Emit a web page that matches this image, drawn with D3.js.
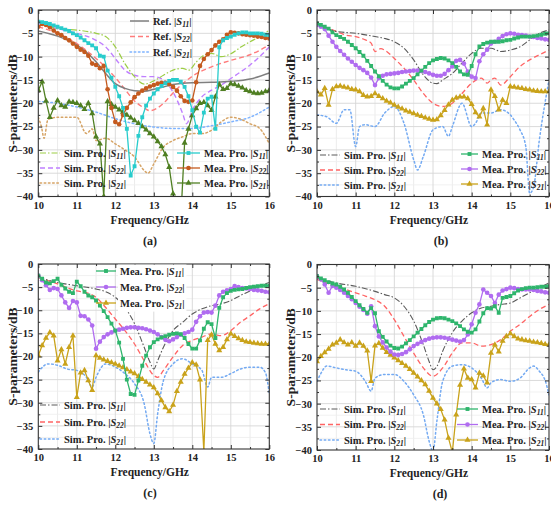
<!DOCTYPE html>
<html>
<head>
<meta charset="utf-8">
<script src="https://cdn.jsdelivr.net/npm/d3@7/dist/d3.min.js"></script>
<style>
  body { margin: 0; background: #fff; }
  svg { display: block; }
  text { font-family: "Liberation Serif", "Times New Roman", serif; font-weight: bold; fill: #222; }
</style>
</head>
<body>
<svg width="551" height="508"></svg>
<script>
// shared axes
const xTicks = [10, 11, 12, 13, 14, 15, 16];
const yTicks = [0, -5, -10, -15, -20, -25, -30, -35, -40];
// frequency grid of the measured curves (GHz)
const freq = [10,10.1,10.2,10.3,10.4,10.5,10.6,10.7,10.8,10.9,11,11.1,11.2,11.3,11.4,11.5,11.6,11.7,11.8,11.9,
  12,12.1,12.2,12.3,12.4,12.5,12.6,12.7,12.8,12.9,13,13.1,13.2,13.3,13.4,13.5,13.6,13.7,13.8,13.9,
  14,14.1,14.2,14.3,14.4,14.5,14.6,14.7,14.8,14.9,15,15.1,15.2,15.3,15.4,15.5,15.6,15.7,15.8,15.9,16];

// ---- (a) ----
const refS11A = [[10,-4.5],[10.5,-5.6],[11,-7.5],[11.5,-11.1],[11.75,-13.6],[12,-15.8],[12.25,-16.8],[12.5,-17.3],[12.75,-17.4],[13,-17.0],[13.25,-16.5],[13.5,-16.0],[14,-15.6],[14.5,-15.5],[15,-15.3],[15.5,-14.8],[16,-13.5]];
const refS22A = [[10,-3.6],[10.5,-5],[11,-7.2],[11.5,-10.4],[12,-14.5],[12.25,-17],[12.5,-19.5],[12.75,-21],[12.9,-21.6],[13.1,-21],[13.3,-19.6],[13.5,-17.8],[13.75,-15.8],[14,-14.2],[14.5,-12.2],[15,-10.8],[15.5,-9.6],[16,-7.5]];
const refS21A = [[10,-19.6],[10.5,-20],[11,-20.8],[11.5,-21.9],[12,-23.3],[12.5,-24.4],[13,-25.1],[13.5,-25.4],[14,-25.4],[14.5,-24.8],[15,-24],[15.5,-23],[16,-20.8]];
const simS11A = [[10,-2.2],[10.25,-3.3],[10.5,-4],[11,-4.3],[11.5,-5],[11.75,-5.7],[12,-7.9],[12.25,-11.5],[12.5,-14.3],[12.75,-15.9],[13,-15.2],[13.25,-14],[13.5,-12.9],[13.75,-12.5],[13.9,-12.9],[14.1,-11.2],[14.25,-10],[14.5,-9.3],[14.75,-10],[15,-9.4],[15.25,-8],[15.5,-6.8],[15.75,-5.7],[16,-4.3]];
const simS22A = [[10,-2.9],[10.5,-4],[11,-5],[11.5,-6.5],[11.75,-7.9],[12,-10.4],[12.25,-12.9],[12.5,-14],[12.75,-14.3],[13,-14.3],[13.25,-15],[13.5,-17.6],[13.75,-22.2],[13.85,-24.4],[14,-21.5],[14.25,-18.6],[14.5,-17.2],[14.75,-16.1],[15,-14.7],[15.25,-13.3],[15.5,-11.8],[15.75,-10],[16,-7.9]];
const simS21A = [[10,-23],[10.08,-25],[10.15,-27.5],[10.25,-23.5],[10.5,-23],[11,-23],[11.25,-26.5],[11.4,-25.5],[11.5,-28],[11.75,-27.5],[12,-28.7],[12.25,-30],[12.5,-31.5],[12.75,-34.4],[12.85,-35],[13,-33],[13.25,-29.4],[13.5,-28],[13.75,-27.2],[14,-26.5],[14.25,-26.5],[14.5,-25.8],[14.75,-24],[15,-23],[15.25,-23.4],[15.5,-24.4],[15.75,-25.4],[16,-28.7]];
const meaS11A = [-2.5,-2.6,-2.8,-3.0,-3.3,-3.6,-3.9,-4.2,-4.5,-5.0,-5.4,-5.9,-6.5,-7.1,-7.6,-8.2,-9.8,-10.0,-13.0,-14.5,
  -16.5,-18.5,-21.0,-25.5,-35.5,-33.5,-27.0,-23.0,-20.5,-19.0,-17.9,-17.0,-16.3,-15.7,-15.2,-15.0,-15.0,-15.4,-16.5,-18.5,
  -21.5,-25.0,-26.3,-22.0,-19.0,-18.6,-25.5,-8.0,-6.5,-6.0,-5.7,-5.3,-5.0,-4.8,-4.8,-5.0,-5.0,-5.0,-5.1,-5.3,-5.4];
const meaS22A = [-3.6,-3.0,-3.2,-3.7,-4.4,-5.0,-5.4,-6.0,-6.5,-7.2,-7.9,-8.5,-9.0,-9.8,-11.5,-11.8,-12.5,-12.0,-17.0,-21.0,
  -24.0,-24.5,-22.5,-21.0,-19.8,-18.7,-17.9,-17.3,-16.8,-16.4,-16.1,-15.8,-15.6,-15.6,-15.9,-16.5,-17.3,-18.5,-19.5,-19.7,
  -19.4,-15.5,-12.0,-10.5,-9.5,-8.6,-7.6,-6.8,-6.3,-5.3,-4.8,-4.9,-5.0,-5.2,-5.3,-5.4,-5.5,-5.7,-5.8,-6.0,-6.1];
const meaS21A = [-17.2,-15.4,-19.5,-23.0,-21.0,-19.4,-20.5,-20.8,-19.7,-19.8,-20.0,-20.5,-21.3,-20.0,-22.2,-27.2,-28.7,-40.0,-19.6,-20.2,
  -20.8,-21.4,-21.9,-22.5,-23.1,-23.7,-24.3,-25.0,-25.7,-26.5,-27.2,-28.2,-29.3,-31.0,-33.7,-39.4,-45,-45,-28.5,-25.5,
  -22.6,-21.1,-20.0,-19.8,-20.5,-21.5,-18.6,-16.0,-17.0,-16.8,-15.8,-16.0,-16.3,-16.7,-17.2,-17.5,-17.8,-17.9,-17.8,-17.5,-17.2];

// ---- (b) ----
const simS11B = [[10,-2.9],[10.25,-3.9],[10.5,-4.6],[11,-5],[11.5,-5.7],[11.75,-6.1],[12,-6.8],[12.25,-8.2],[12.5,-10.7],[12.75,-13.9],[13,-15.7],[13.1,-15.8],[13.25,-15],[13.5,-13.6],[13.75,-11.4],[14,-9.3],[14.25,-8.2],[14.5,-8.2],[14.75,-8.9],[15,-8.6],[15.25,-7.9],[15.5,-6.4],[15.75,-5],[16,-4.3]];
const simS22B = [[10,-2.9],[10.5,-4.6],[10.75,-5.4],[11,-5.7],[11.25,-6.4],[11.4,-7.1],[11.5,-8.9],[11.65,-8.3],[11.75,-8.6],[12,-10.4],[12.25,-12.5],[12.5,-15],[12.75,-17.9],[13,-20],[13.25,-20.7],[13.5,-20],[13.75,-17.9],[14,-15.7],[14.25,-14.6],[14.4,-15.7],[14.5,-15],[14.6,-14.6],[14.75,-16.1],[15,-14.3],[15.25,-12.1],[15.5,-10.7],[15.75,-9.6],[16,-8.6]];
const simS21B = [[10,-22.5],[10.25,-22.9],[10.5,-24.3],[10.7,-21.4],[10.85,-21.4],[11,-29.3],[11.1,-25],[11.25,-24.6],[11.5,-25],[11.75,-22.1],[12,-20.7],[12.25,-24.3],[12.5,-32.1],[12.6,-34.3],[12.75,-31.4],[13,-25.7],[13.25,-25],[13.4,-27.1],[13.5,-25],[13.75,-20],[14,-25],[14.1,-24.3],[14.25,-22.1],[14.5,-22.1],[14.75,-21.4],[15,-22.5],[15.1,-23.6],[15.25,-25.7],[15.4,-29.3],[15.5,-39.3],[15.6,-38],[15.75,-27.9],[16,-15]];
const meaS11B = [-2.9,-3.2,-3.6,-4.0,-4.8,-5.4,-5.8,-6.2,-6.8,-7.5,-8.2,-9.0,-9.8,-10.9,-12.0,-13.2,-14.2,-15.2,-16.0,-16.6,
  -16.8,-16.8,-16.4,-15.8,-15.2,-14.6,-13.8,-13.0,-12.2,-11.4,-10.8,-10.5,-10.3,-10.4,-10.8,-11.4,-12.2,-13.2,-13.8,-13.9,
  -12.0,-9.5,-7.8,-7.3,-7.0,-6.8,-6.8,-6.8,-6.7,-6.5,-6.4,-6.1,-5.9,-5.7,-5.7,-5.7,-5.6,-5.5,-5.3,-5.1,-5.0];
const meaS22B = [-3.2,-3.6,-4.1,-5.5,-6.8,-7.9,-8.8,-9.6,-10.4,-11.1,-11.8,-12.4,-12.9,-13.5,-14.5,-16.1,-14.6,-14.1,-13.8,-13.7,
  -13.6,-13.5,-13.3,-13.2,-13.1,-13.0,-13.0,-13.1,-13.3,-13.6,-13.9,-14.1,-14.1,-13.7,-12.9,-12.1,-10.9,-10.7,-11.5,-13.2,
  -14.3,-14.6,-11.0,-9.5,-8.5,-7.2,-6.8,-6.2,-5.6,-5.2,-5.0,-5.1,-5.3,-5.4,-5.5,-5.7,-5.8,-6.0,-6.1,-6.3,-6.4];
const meaS21B = [-17.5,-18.2,-16.8,-20.4,-17.0,-16.4,-16.3,-16.5,-16.7,-17.0,-17.1,-17.5,-18.3,-18.6,-18.5,-17.9,-18.5,-19.0,-19.5,-19.9,
  -20.4,-20.8,-21.2,-21.6,-21.9,-22.2,-22.5,-22.8,-23.1,-23.4,-23.6,-23.5,-22.6,-21.5,-20.3,-19.3,-18.8,-18.6,-18.6,-19.0,
  -20.2,-22.0,-22.9,-21.1,-24.6,-17.1,-18.5,-21.4,-19.3,-20.0,-16.4,-16.5,-16.7,-16.8,-17.0,-17.1,-17.3,-17.4,-17.5,-17.5,-17.5];

// ---- (c) ----
const simS11C = [[10,-2.9],[10.5,-4],[11,-4.7],[11.5,-5.4],[11.75,-6],[12,-7.2],[12.25,-9.4],[12.5,-12.9],[12.75,-18],[12.9,-21.2],[13,-22.7],[13.1,-20.9],[13.25,-18],[13.5,-14.4],[13.75,-12.6],[14,-10.8],[14.25,-9.7],[14.5,-9],[14.75,-8.6],[15,-7.9],[15.25,-6.8],[15.5,-5.8],[15.75,-4.7],[16,-4]];
const simS22C = [[10,-2.9],[10.5,-4.3],[11,-5.8],[11.25,-6.2],[11.5,-7.2],[11.75,-9.4],[12,-11.9],[12.25,-14.4],[12.5,-17.3],[12.75,-20.9],[13,-24.1],[13.1,-24.5],[13.25,-23],[13.5,-20.1],[13.75,-17.6],[14,-16.5],[14.25,-15.8],[14.5,-15.1],[14.75,-15.5],[15,-14.4],[15.25,-12.6],[15.5,-11.2],[15.75,-9.7],[16,-8.6]];
const simS21C = [[10,-23.4],[10.25,-21.6],[10.5,-21.9],[10.75,-22.7],[11,-23],[11.25,-24.5],[11.4,-26.6],[11.5,-24.5],[11.75,-21.6],[12,-22.3],[12.25,-23.7],[12.5,-25.9],[12.75,-30.2],[12.9,-36.7],[13,-38.8],[13.1,-32.4],[13.25,-25.2],[13.5,-21.6],[13.75,-20.5],[14,-21.6],[14.25,-23],[14.4,-26.6],[14.5,-24.5],[14.75,-24.5],[15,-23.7],[15.25,-22.7],[15.5,-22.3],[15.75,-22.3],[15.9,-23.5],[16,-28.1]];
const meaS11C = [-2.5,-3.2,-4.0,-4.2,-3.7,-3.2,-4.5,-5.3,-6.0,-6.3,-3.8,-4.8,-6.0,-6.8,-7.2,-7.9,-9.0,-10.2,-11.5,-12.9,
  -14.4,-17.0,-20.5,-25.0,-28.1,-28.3,-25.2,-22.0,-19.8,-18.0,-16.9,-16.3,-15.9,-15.6,-15.3,-15.1,-15.0,-15.2,-16.0,-17.3,
  -18.3,-18.3,-16.5,-14.0,-12.6,-13.0,-16.0,-9.5,-7.2,-6.3,-5.8,-5.6,-5.5,-5.4,-5.2,-5.0,-4.9,-4.8,-4.7,-4.7,-4.7];
const meaS22C = [-2.5,-3.5,-4.6,-5.6,-5.2,-5.4,-6.8,-8.3,-9.5,-8.0,-8.3,-11.2,-11.3,-12.0,-13.3,-18.3,-16.8,-15.8,-15.2,-14.8,
  -14.4,-14.2,-14.0,-13.8,-13.7,-13.7,-13.8,-13.9,-14.1,-14.4,-14.7,-15.2,-15.8,-16.4,-16.7,-16.3,-15.8,-15.3,-15.0,-14.7,
  -14.2,-12.5,-11.3,-10.5,-10.4,-10.5,-9.0,-6.8,-6.0,-5.7,-5.4,-4.8,-5.0,-5.2,-5.3,-5.4,-5.6,-5.7,-5.8,-6.0,-6.1];
const meaS21C = [-19.8,-17.6,-16.0,-14.8,-15.5,-20.9,-18.5,-21.6,-18.0,-15.5,-28.8,-23.5,-23.0,-25.2,-27.3,-19.8,-20.3,-20.7,-21.0,-21.3,
  -21.6,-22.0,-22.4,-22.8,-23.3,-23.7,-24.3,-24.9,-25.5,-26.1,-26.7,-28.0,-29.5,-31.0,-31.9,-30.5,-27.5,-25.5,-23.8,-22.5,
  -21.3,-21.8,-25.0,-40.5,-16.5,-15.3,-17.3,-18.7,-18.0,-16.3,-15.1,-15.6,-16.1,-16.5,-16.8,-16.9,-17.1,-17.2,-17.3,-17.3,-17.3];

// ---- (d) ----
const simS11D = [[10,-2.9],[10.5,-4],[11,-4.7],[11.5,-5.8],[11.75,-6.5],[12,-7.2],[12.25,-9],[12.5,-12.2],[12.75,-17.3],[12.9,-20.9],[13,-22.7],[13.1,-22],[13.25,-18.7],[13.5,-14.7],[13.75,-12.2],[14,-10.4],[14.25,-9.4],[14.5,-9],[14.75,-8.6],[15,-8.3],[15.25,-7.2],[15.5,-6.1],[15.75,-5],[16,-4]];
const simS22D = [[10,-3.2],[10.5,-4.7],[11,-6.1],[11.25,-6.8],[11.5,-7.6],[11.75,-9],[12,-11.9],[12.25,-15.5],[12.5,-19.1],[12.75,-22.3],[13,-24.1],[13.25,-22.3],[13.5,-19.1],[13.75,-16.9],[14,-16.9],[14.25,-17.6],[14.5,-17.3],[14.75,-16.2],[15,-14.4],[15.25,-12.9],[15.5,-11.2],[15.75,-9.7],[16,-8.6]];
const simS21D = [[10,-25.2],[10.1,-23.5],[10.25,-21.9],[10.5,-22.3],[10.75,-22.7],[11,-23],[11.25,-25.2],[11.4,-27.3],[11.5,-24.5],[11.75,-23.7],[12,-23.7],[12.25,-25.2],[12.5,-28.1],[12.75,-32.4],[12.9,-38.1],[13,-40.3],[13.1,-33.8],[13.25,-25.2],[13.5,-21.9],[13.75,-21.6],[14,-22.3],[14.25,-24.5],[14.4,-26.6],[14.5,-25.5],[14.75,-24.8],[15,-25.2],[15.25,-24.5],[15.5,-22.3],[15.6,-21.9],[15.75,-23],[15.9,-25],[16,-28.1]];
const meaS11D = [-2.5,-3.0,-3.4,-3.8,-4.1,-4.3,-4.8,-5.4,-6.1,-7.0,-7.9,-8.8,-9.6,-10.4,-9.4,-10.5,-14.4,-15.6,-16.6,-17.5,
  -18.0,-18.1,-17.7,-17.0,-16.3,-15.5,-14.7,-13.9,-13.1,-12.4,-11.9,-11.6,-11.5,-11.6,-11.9,-12.2,-12.7,-13.3,-14.0,-14.5,
  -14.7,-14.0,-12.3,-10.5,-9.4,-9.5,-9.0,-10.4,-7.2,-7.0,-6.8,-6.2,-5.6,-5.3,-5.1,-5.0,-5.0,-4.9,-4.8,-4.8,-4.7];
const meaS22D = [-2.5,-3.2,-4.3,-6.1,-4.6,-5.0,-5.5,-6.1,-6.8,-7.5,-8.3,-9.1,-9.8,-10.6,-9.0,-13.3,-15.5,-16.8,-17.9,-18.8,
  -19.4,-19.5,-19.3,-18.9,-18.3,-17.6,-17.1,-16.7,-16.3,-16.0,-15.8,-15.7,-15.7,-15.8,-16.0,-16.2,-16.4,-16.6,-16.3,-15.1,
  -12.9,-10.4,-8.6,-5.4,-6.1,-6.8,-8.3,-6.5,-5.6,-5.3,-5.0,-5.1,-5.3,-5.4,-5.4,-5.4,-5.5,-5.7,-5.8,-6.0,-6.1];
const meaS21D = [-20.9,-19.8,-19.0,-18.2,-17.3,-16.9,-16.2,-16.8,-17.3,-16.8,-17.6,-16.9,-17.6,-18.6,-25.2,-17.5,-17.0,-18.0,-18.9,-19.5,
  -20.1,-20.7,-21.3,-21.9,-22.6,-23.4,-24.2,-25.0,-25.9,-27.3,-28.8,-30.0,-31.2,-33.5,-37.4,-40.5,-32.4,-26.0,-22.5,-24.5,
  -24.8,-26.6,-23.4,-24.0,-25.5,-19.1,-17.3,-18.8,-16.5,-15.5,-14.9,-15.5,-16.0,-16.2,-16.4,-16.5,-16.7,-16.8,-17.0,-17.2,-17.3];

// ---- styles ----
const DASH = "5,3", DOT = "1.6,2.6", DASHDOT = "6,2,1.5,2";
const st = {
  refS11: { color: "#7f7f7f", dash: null, w: 1.5 },
  refS22: { color: "#ff7b7b", dash: DASH, w: 1.4 },
  refS21: { color: "#7fb4ff", dash: DOT, w: 1.5 },
  simS11a: { color: "#9ccd45", dash: DASHDOT, w: 1.2 },
  simS22a: { color: "#bf7fff", dash: DASH, w: 1.4 },
  simS21a: { color: "#d6a466", dash: DOT, w: 1.5 },
  meaS11a: { color: "#28cccc", w: 1.3, sym: d3.symbolSquare, size: 15 },
  meaS22a: { color: "#c45a1e", w: 1.3, sym: d3.symbolCircle, size: 17 },
  meaS21a: { color: "#4f7f22", w: 1.3, sym: d3.symbolTriangle, size: 16 },
  simS11: { color: "#5a5a5a", dash: DASHDOT, w: 1.1 },
  simS22: { color: "#ff6464", dash: DASH, w: 1.3 },
  simS21: { color: "#74aaf2", dash: DOT, w: 1.5 },
  meaS11: { color: "#2fb56c", w: 1.3, sym: d3.symbolSquare, size: 15 },
  meaS22: { color: "#b06cf0", w: 1.3, sym: d3.symbolCircle, size: 17 },
  meaS21: { color: "#c9a21a", w: 1.3, sym: d3.symbolTriangle, size: 16 }
};

const mea = arr => freq.map((f, i) => [f, arr[i]]);

const panels = [
  { x0: 38.3, x1: 269.3, y0: 10, y1: 196.5, cap: "(a)", capX: 150, yT: 12,
    series: [[refS21A, st.refS21], [simS21A, st.simS21a], [refS22A, st.refS22], [simS22A, st.simS22a], [simS11A, st.simS11a], [refS11A, st.refS11],
             [mea(meaS21A), st.meaS21a], [mea(meaS22A), st.meaS22a], [mea(meaS11A), st.meaS11a]],
    legends: [
      { lx: [130, 149], rows: [21, 36.5, 52], items: [["Ref.", "11", st.refS11], ["Ref.", "22", st.refS22], ["Ref.", "21", st.refS21]] },
      { lx: [40, 60], rows: [153, 168, 183], items: [["Sim. Pro.", "11", st.simS11a], ["Sim. Pro.", "22", st.simS22a], ["Sim. Pro.", "21", st.simS21a]] },
      { lx: [177, 200], rows: [153, 168, 183], items: [["Mea. Pro.", "11", st.meaS11a], ["Mea. Pro.", "22", st.meaS22a], ["Mea. Pro.", "21", st.meaS21a]] }
    ] },
  { x0: 317, x1: 549, y0: 10, y1: 196.5, cap: "(b)", capX: 441, yT: 290,
    series: [[simS21B, st.simS21], [simS22B, st.simS22], [simS11B, st.simS11],
             [mea(meaS21B), st.meaS21], [mea(meaS22B), st.meaS22], [mea(meaS11B), st.meaS11]],
    legends: [
      { lx: [320, 340], rows: [155, 170, 185], items: [["Sim. Pro.", "11", st.simS11], ["Sim. Pro.", "22", st.simS22], ["Sim. Pro.", "21", st.simS21]] },
      { lx: [461, 478], rows: [154, 169, 184], items: [["Mea. Pro.", "11", st.meaS11], ["Mea. Pro.", "22", st.meaS22], ["Mea. Pro.", "21", st.meaS21]] }
    ] },
  { x0: 38.3, x1: 269.3, y0: 264, y1: 449, cap: "(c)", capX: 150, yT: 12,
    series: [[simS21C, st.simS21], [simS22C, st.simS22], [simS11C, st.simS11],
             [mea(meaS21C), st.meaS21], [mea(meaS22C), st.meaS22], [mea(meaS11C), st.meaS11]],
    legends: [
      { lx: [96, 116], rows: [271, 287, 303], box: true, items: [["Mea. Pro.", "11", st.meaS11], ["Mea. Pro.", "22", st.meaS22], ["Mea. Pro.", "21", st.meaS21]] },
      { lx: [40, 60], rows: [405, 422, 439], items: [["Sim. Pro.", "11", st.simS11], ["Sim. Pro.", "22", st.simS22], ["Sim. Pro.", "21", st.simS21]] }
    ] },
  { x0: 317, x1: 549, y0: 264.5, y1: 450, cap: "(d)", capX: 440, yT: 290,
    series: [[simS21D, st.simS21], [simS22D, st.simS22], [simS11D, st.simS11],
             [mea(meaS21D), st.meaS21], [mea(meaS22D), st.meaS22], [mea(meaS11D), st.meaS11]],
    legends: [
      { lx: [320, 340], rows: [409, 424.5, 440], items: [["Sim. Pro.", "11", st.simS11], ["Sim. Pro.", "22", st.simS22], ["Sim. Pro.", "21", st.simS21]] },
      { lx: [457, 478], rows: [409, 424.5, 440], items: [["Mea. Pro.", "11", st.meaS11], ["Mea. Pro.", "22", st.meaS22], ["Mea. Pro.", "21", st.meaS21]] }
    ] }
];

const svg = d3.select("svg");

function strokeStyle(sel, s) {
  sel.attr("fill", "none").attr("stroke", s.color).attr("stroke-width", s.w)
    .attr("stroke-dasharray", s.dash || null);
  if (s.dash === DOT) sel.attr("stroke-linecap", "round");
  return sel;
}

function drawPanel(p, pi) {
  const x = d3.scaleLinear().domain([10, 16]).range([p.x0, p.x1]);
  const y = d3.scaleLinear().domain([-40, 0]).range([p.y1, p.y0]);
  const g = svg.append("g");

  // grid
  const xMinor = d3.range(10.5, 16, 1), yMinor = d3.range(-37.5, 0, 5);
  g.selectAll(".gxm").data(xMinor).enter().append("line")
    .attr("x1", d => x(d)).attr("x2", d => x(d)).attr("y1", p.y0).attr("y2", p.y1)
    .attr("stroke", "#e6e6e6").attr("stroke-width", 0.8);
  g.selectAll(".gym").data(yMinor).enter().append("line")
    .attr("y1", d => y(d)).attr("y2", d => y(d)).attr("x1", p.x0).attr("x2", p.x1)
    .attr("stroke", "#ededed").attr("stroke-width", 0.8);
  g.selectAll(".gx").data(xTicks.slice(1, -1)).enter().append("line")
    .attr("x1", d => x(d)).attr("x2", d => x(d)).attr("y1", p.y0).attr("y2", p.y1)
    .attr("stroke", "#d6d6d6").attr("stroke-width", 0.9);
  g.selectAll(".gy").data(yTicks.slice(1, -1)).enter().append("line")
    .attr("y1", d => y(d)).attr("y2", d => y(d)).attr("x1", p.x0).attr("x2", p.x1)
    .attr("stroke", "#d6d6d6").attr("stroke-width", 0.9);

  // clip
  const cid = "clip" + pi;
  svg.append("clipPath").attr("id", cid).append("rect")
    .attr("x", p.x0).attr("y", p.y0).attr("width", p.x1 - p.x0).attr("height", p.y1 - p.y0);
  const plot = g.append("g").attr("clip-path", `url(#${cid})`);

  p.series.forEach(([data, s]) => {
    const line = d3.line().x(d => x(d[0])).y(d => y(d[1]))
      .curve(s.sym ? d3.curveLinear : d3.curveMonotoneX);
    strokeStyle(plot.append("path").datum(data).attr("d", line), s);
    if (s.sym) {
      plot.selectAll(null).data(data.filter(d => d[1] >= -40.5)).enter().append("path")
        .attr("d", d3.symbol().type(s.sym).size(s.size))
        .attr("transform", d => `translate(${x(d[0])},${y(d[1])})`)
        .attr("fill", s.color);
    }
  });

  // axes with inward ticks
  const ax = (axis, tx, ty, vals, size, labels) => {
    const a = g.append("g").attr("transform", `translate(${tx},${ty})`)
      .call(axis.tickValues(vals).tickSize(-size).tickPadding(5).tickFormat(labels ? d3.format("d") : ""));
    a.select(".domain").remove();
    a.selectAll("line").attr("stroke", "#333");
    a.selectAll("text").attr("font-size", 10.5).attr("fill", "#222")
      .attr("font-family", '"Liberation Serif","Times New Roman",serif').attr("font-weight", "bold");
    return a;
  };
  const xm = d3.range(10.5, 16, 1), ym = d3.range(-37.5, 0, 5);
  ax(d3.axisBottom(x), 0, p.y1, xTicks, 4, true);
  ax(d3.axisBottom(x), 0, p.y1, xm, 2, false);
  ax(d3.axisTop(x), 0, p.y0, xTicks, 4, false);
  ax(d3.axisTop(x), 0, p.y0, xm, 2, false);
  ax(d3.axisLeft(y), p.x0, 0, yTicks, 4, true);
  ax(d3.axisLeft(y), p.x0, 0, ym, 2, false);
  ax(d3.axisRight(y), p.x1, 0, yTicks, 4, false);
  ax(d3.axisRight(y), p.x1, 0, ym, 2, false);

  g.append("rect").attr("x", p.x0).attr("y", p.y0).attr("width", p.x1 - p.x0).attr("height", p.y1 - p.y0)
    .attr("fill", "none").attr("stroke", "#333").attr("stroke-width", 1.1);

  // titles
  const cx = (p.x0 + p.x1) / 2 - 4;
  g.append("text").attr("x", cx).attr("y", p.y1 + 27).attr("text-anchor", "middle")
    .attr("font-size", 11.5).text("Frequency/GHz");
  g.append("text").attr("transform", `translate(${p.yT + 4.5},${(p.y0 + p.y1) / 2}) rotate(-90)`)
    .attr("text-anchor", "middle").attr("font-size", 13.5).text("S-parameters/dB");
  g.append("text").attr("x", p.capX).attr("y", p.y1 + 48).attr("text-anchor", "middle")
    .attr("font-size", 12).text(p.cap);

  // legends
  p.legends.forEach(L => {
    const lg = g.append("g");
    L.items.forEach(([pre, sub, s], i) => {
      const yy = L.rows[i];
      strokeStyle(lg.append("line").attr("x1", L.lx[0]).attr("x2", L.lx[1]).attr("y1", yy).attr("y2", yy), s);
      if (s.sym) {
        lg.append("path").attr("d", d3.symbol().type(s.sym).size(s.size))
          .attr("transform", `translate(${(L.lx[0] + L.lx[1]) / 2},${yy})`).attr("fill", s.color);
      }
      const t = lg.append("text").attr("x", L.lx[1] + 4).attr("y", yy + 3.6).attr("font-size", 10.5);
      t.append("tspan").text(pre + " |");
      t.append("tspan").attr("font-style", "italic").text("S");
      t.append("tspan").attr("font-style", "italic").attr("font-size", 7.5).attr("dy", 2).text(sub);
      t.append("tspan").attr("dy", -2).text("|");
    });
    if (L.box) {
      const bb = lg.node().getBBox();
      lg.insert("rect", ":first-child").attr("x", L.lx[1] + 2).attr("y", bb.y - 1)
        .attr("width", bb.x + bb.width - L.lx[1]).attr("height", bb.height + 2).attr("fill", "#fff");
    }
  });
}

panels.forEach(drawPanel);
</script>
</body>
</html>
